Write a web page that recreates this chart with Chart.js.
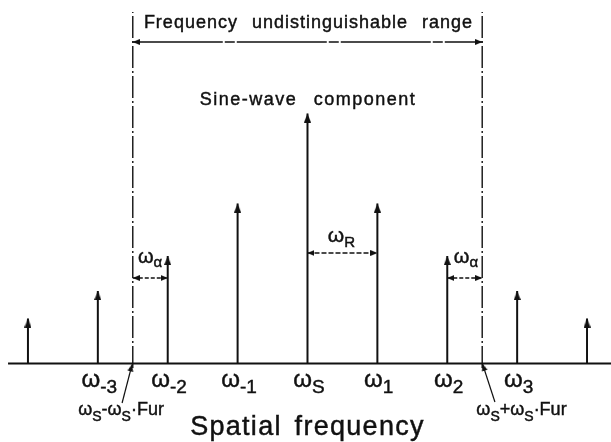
<!DOCTYPE html>
<html><head><meta charset="utf-8">
<script src="https://cdn.jsdelivr.net/npm/chart.js@4"></script>
<style>html,body{margin:0;padding:0;background:#fff}canvas{display:block}</style>
</head><body>
<canvas id="c" width="611" height="442"></canvas>
<script>
// ---- data ----
// stem positions, in multiples of ωR measured from ωS
const stemPositions = [-4, -3, -2, -1, 0, 1, 2, 3, 4];
// relative amplitudes (sine-wave component = 1)
const stemAmplitudes = [0.18, 0.29, 0.43, 0.64, 1.0, 0.64, 0.43, 0.29, 0.18];
// tick labels under the axis
const tickPositions = [-3, -2, -1, 0, 1, 2, 3];
const tickLabels = ['ω_{-3}', 'ω_{-2}', 'ω_{-1}', 'ω_{S}', 'ω_{1}', 'ω_{2}', 'ω_{3}'];
// bounds of the frequency-undistinguishable range
const rangeBounds = [-2.5, 2.5];
const boundLabels = ['ω_{S}-ω_{S}·Fur', 'ω_{S}+ω_{S}·Fur'];
const rangeTitle = 'Frequency undistinguishable range';
const peakTitle = 'Sine-wave component';
const axisTitle = 'Spatial frequency';
const spacingLabel = 'ω_{R}';
const offsetLabel = 'ω_{α}';

// ---- drawing ----
const INK = '#111';
function makeArrow(len, w) {
  const c = document.createElement('canvas');
  c.width = w; c.height = len * 2;
  const g = c.getContext('2d');
  g.fillStyle = INK;
  g.beginPath();
  g.moveTo(w / 2, len);
  g.lineTo(w, len * 2);
  g.lineTo(0, len * 2);
  g.closePath();
  g.fill();
  return c;
}
const bigArrow = makeArrow(9, 7);
const smallArrow = makeArrow(7, 6);

function line(points, extra) {
  return Object.assign({
    data: points,
    showLine: true,
    borderColor: INK,
    borderWidth: 1.5,
    arrowImg: smallArrow,
  }, extra || {});
}

const datasets = [];
// horizontal axis
datasets.push(line([{x: -4.285, y: 0}, {x: 4.35, y: 0}], {borderWidth: 2}));
// stems
stemPositions.forEach((p, i) => {
  datasets.push(line([{x: p, y: 0}, {x: p, y: stemAmplitudes[i], arrow: true}],
    {borderWidth: 2, arrowImg: bigArrow}));
});
// range bounds (dash-dot)
rangeBounds.forEach(b => {
  datasets.push(line([{x: b, y: -0.018}, {x: b, y: 1.406}],
    {borderWidth: 1.4, borderDash: [22, 3, 2, 3]}));
});
// range double arrow
datasets.push(line([{x: rangeBounds[0], y: 1.286, arrow: true}, {x: rangeBounds[1], y: 1.286, arrow: true}],
  {borderWidth: 1.5, borderDash: [90, 2, 10, 2]}));
// ωR arrow between ωS and ω1
datasets.push(line([{x: stemPositions[4], y: 0.442, arrow: true}, {x: stemPositions[5], y: 0.442, arrow: true}],
  {borderDash: [5, 2]}));
// ωα arrows
datasets.push(line([{x: rangeBounds[0], y: 0.342, arrow: true}, {x: stemPositions[2], y: 0.342, arrow: true}],
  {borderDash: [4, 2]}));
datasets.push(line([{x: stemPositions[6], y: 0.342, arrow: true}, {x: rangeBounds[1], y: 0.342, arrow: true}],
  {borderDash: [4, 2]}));
// leader arrows from bound labels
datasets.push(line([{x: -2.653, y: -0.158}, {x: rangeBounds[0] - 0.01, y: -0.004, arrow: true}], {borderWidth: 1.2}));
datasets.push(line([{x: 2.682, y: -0.154}, {x: rangeBounds[1] + 0.005, y: -0.002, arrow: true}], {borderWidth: 1.2}));

function parseRich(str) {
  const parts = [];
  const re = /_\{([^}]*)\}/g;
  let last = 0, m;
  while ((m = re.exec(str))) {
    if (m.index > last) parts.push({t: str.slice(last, m.index), sub: false});
    parts.push({t: m[1], sub: true});
    last = re.lastIndex;
  }
  if (last < str.length) parts.push({t: str.slice(last), sub: false});
  return parts;
}
function put(ctx, t, x, y) {
  ctx.fillText(t, x, y);
  ctx.strokeText(t, x, y);
}
function drawRich(ctx, str, cx, base, mainFont, subFont, subDy) {
  const parts = parseRich(str);
  let w = 0;
  parts.forEach(p => { ctx.font = p.sub ? subFont : mainFont; p.w = ctx.measureText(p.t).width; w += p.w; });
  let x = cx - w / 2;
  ctx.textAlign = 'left';
  ctx.textBaseline = 'alphabetic';
  parts.forEach(p => {
    ctx.font = p.sub ? subFont : mainFont;
    put(ctx, p.t, x, base + (p.sub ? subDy : 0));
    x += p.w;
  });
}
function drawSpaced(ctx, str, cx, base, font, ls, ws) {
  ctx.font = font;
  ctx.textAlign = 'center';
  ctx.textBaseline = 'alphabetic';
  if ('letterSpacing' in ctx) ctx.letterSpacing = ls + 'px';
  if ('wordSpacing' in ctx) ctx.wordSpacing = ws + 'px';
  put(ctx, str, cx, base);
  if ('letterSpacing' in ctx) ctx.letterSpacing = '0px';
  if ('wordSpacing' in ctx) ctx.wordSpacing = '0px';
}

const FAM = '"Liberation Sans", Arial, sans-serif';
const textPlugin = {
  id: 'texts',
  afterDatasetsDraw(chart) {
    const ctx = chart.ctx, sx = chart.scales.x, sy = chart.scales.y;
    const X = v => sx.getPixelForValue(v), Y = v => sy.getPixelForValue(v);
    ctx.save();
    ctx.fillStyle = INK;
    ctx.strokeStyle = INK;
    ctx.lineWidth = 0.45;
    drawSpaced(ctx, rangeTitle, X(0.014), Y(1.342), '18px ' + FAM, 1, 8);
    drawSpaced(ctx, peakTitle, X(0.007), Y(1.034), '18px ' + FAM, 1.5, 10);
    drawSpaced(ctx, axisTitle, X(0), Y(-0.286), '27px ' + FAM, 1.3, 4);
    tickPositions.forEach((p, i) => {
      drawRich(ctx, tickLabels[i], X(p + 0.02), Y(-0.094), '24px ' + FAM, '19px ' + FAM, 6);
    });
    drawRich(ctx, spacingLabel, X(0.486), Y(0.486), '21px ' + FAM, '15px ' + FAM, 5);
    drawRich(ctx, offsetLabel, X(-2.253), Y(0.402), '20px ' + FAM, '15px ' + FAM, 4);
    drawRich(ctx, offsetLabel, X(2.268), Y(0.402), '20px ' + FAM, '15px ' + FAM, 4);
    drawRich(ctx, boundLabels[0], X(-2.668), Y(-0.206), '18px ' + FAM, '14px ' + FAM, 6);
    drawRich(ctx, boundLabels[1], X(3.062), Y(-0.206), '18px ' + FAM, '14px ' + FAM, 6);
    ctx.restore();
  }
};

new Chart(document.getElementById('c'), {
  type: 'scatter',
  data: {datasets},
  options: {
    responsive: false,
    animation: false,
    events: [],
    layout: {padding: 0, autoPadding: false},
    plugins: {legend: {display: false}, tooltip: {enabled: false}},
    scales: {
      x: {type: 'linear', min: -4.4, max: 4.343, display: false},
      y: {type: 'linear', min: -0.314, max: 1.454, display: false}
    },
    elements: {
      line: {tension: 0, borderCapStyle: 'butt'},
      point: {
        radius: c => (c.raw && c.raw.arrow) ? 5 : 0,
        pointStyle: c => (c.raw && c.raw.arrow) ? c.dataset.arrowImg : 'circle',
        rotation: c => {
          const d = c.dataset.data, i = c.dataIndex, p = d[i];
          const q = d[i === 0 ? 1 : i - 1];
          const sx = c.chart.scales.x, sy = c.chart.scales.y;
          if (!p || !q || !p.arrow) return 0;
          const dx = sx.getPixelForValue(p.x) - sx.getPixelForValue(q.x);
          const dy = sy.getPixelForValue(p.y) - sy.getPixelForValue(q.y);
          return Math.atan2(dx, -dy) * 180 / Math.PI;
        }
      }
    }
  },
  plugins: [textPlugin]
});
</script>
</body></html>
